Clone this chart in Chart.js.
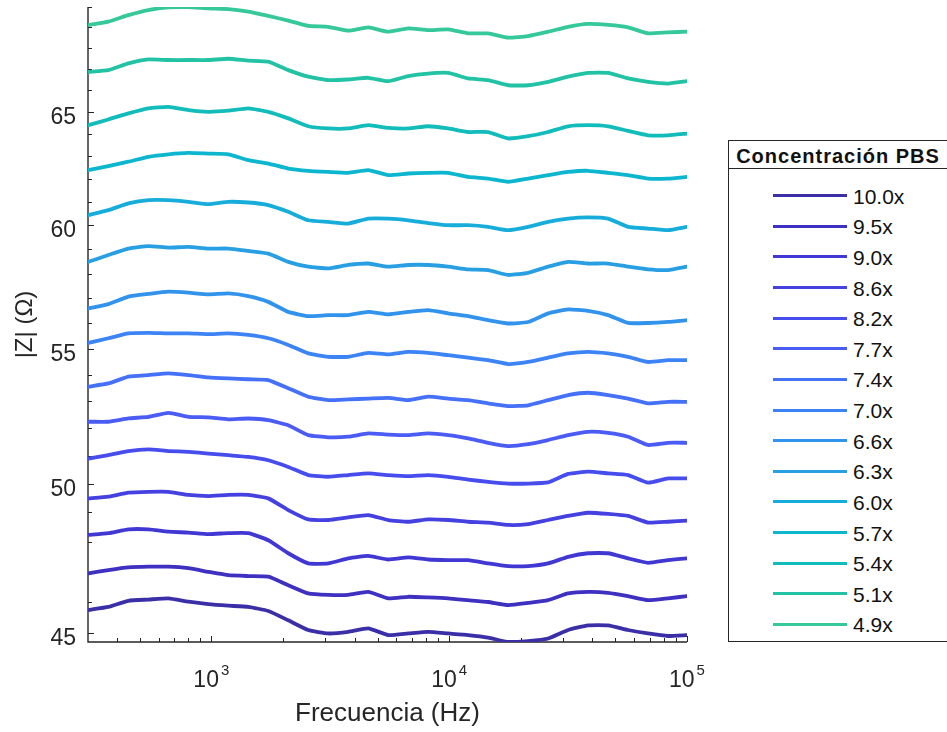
<!DOCTYPE html>
<html>
<head>
<meta charset="utf-8">
<title>|Z| vs frecuencia — concentración PBS</title>
<script src="https://cdn.jsdelivr.net/npm/chart.js@4.4.1/dist/chart.umd.min.js"></script>
<style>
  html, body { margin: 0; padding: 0; background: #fff; overflow: hidden; }
  #wrap { position: relative; width: 947px; height: 732px; }
  #legend {
    position: absolute; left: 728px; top: 140px; width: 240px; height: 502px;
    box-sizing: border-box; border: 1px solid #262626; background: #fff;
    font-family: "Liberation Sans", Arial, Helvetica, sans-serif; color: #262626;
  }
  #legend .title {
    position: absolute; left: 0; top: 0; width: 218px; height: 27px;
    border-bottom: 1px solid #262626; width: 100%;
  }
  #legend .title span {
    position: absolute; left: 0; width: 218px; top: 5px; text-align: center;
    font-weight: bold; font-size: 20px; line-height: 20px; letter-spacing: 1px; color: #111;
  }
  #legend .swatch { position: absolute; left: 44px; width: 74px; height: 3px; }
  #legend .lbl { position: absolute; left: 124px; font-size: 21px; line-height: 20px; color: #111; }
</style>
</head>
<body>
<div id="wrap">
  <canvas id="chart" width="947" height="732"></canvas>
  <div id="legend"><div class="title"><span>Concentración PBS</span></div></div>
</div>
<script>
/* ── Data ────────────────────────────────────────────────────── */
var FREQ = [304, 369, 448, 544, 660, 801, 972, 1179, 1430, 1736, 2106, 2556, 3101, 3764, 4568,
            5543, 6726, 8162, 9904, 12018, 14584, 17701, 21478, 26062, 31623, 38373, 46571,
            56508, 68565, 83218, 100000];

var CONC = ['10.0x', '9.5x', '9.0x', '8.6x', '8.2x', '7.7x', '7.4x', '7.0x',
            '6.6x', '6.3x', '6.0x', '5.7x', '5.4x', '5.1x', '4.9x'];

var Z_10_0 = [45.74, 45.84, 46.04, 46.08, 46.12, 46.01, 45.93, 45.88, 45.84, 45.71, 45.41, 45.10, 44.99, 45.04, 45.15, 44.94, 44.99, 45.04, 44.99, 44.94, 44.86, 44.72, 44.75, 44.83, 45.10, 45.25, 45.25, 45.10, 44.99, 44.91, 44.94];
var Z_9_5  = [46.94, 47.05, 47.14, 47.16, 47.16, 47.11, 46.99, 46.88, 46.85, 46.83, 46.55, 46.28, 46.23, 46.23, 46.33, 46.12, 46.17, 46.15, 46.12, 46.06, 46.00, 45.90, 45.97, 46.06, 46.28, 46.33, 46.30, 46.19, 46.06, 46.12, 46.19];
var Z_9_0  = [48.23, 48.29, 48.42, 48.42, 48.34, 48.31, 48.26, 48.29, 48.29, 48.05, 47.61, 47.27, 47.27, 47.44, 47.52, 47.40, 47.47, 47.40, 47.38, 47.38, 47.27, 47.18, 47.18, 47.27, 47.49, 47.61, 47.61, 47.44, 47.29, 47.38, 47.44];
var Z_8_6  = [49.49, 49.55, 49.69, 49.72, 49.72, 49.61, 49.57, 49.61, 49.61, 49.49, 49.08, 48.76, 48.74, 48.83, 48.91, 48.74, 48.68, 48.76, 48.74, 48.68, 48.65, 48.57, 48.60, 48.74, 48.88, 48.99, 48.95, 48.88, 48.65, 48.68, 48.72];
var Z_8_2  = [50.90, 51.02, 51.17, 51.23, 51.17, 51.14, 51.08, 51.02, 50.96, 50.84, 50.60, 50.31, 50.25, 50.31, 50.37, 50.31, 50.27, 50.31, 50.25, 50.15, 50.07, 50.01, 50.01, 50.05, 50.35, 50.43, 50.37, 50.31, 50.04, 50.19, 50.19];
var Z_7_7  = [52.24, 52.24, 52.36, 52.42, 52.57, 52.42, 52.40, 52.33, 52.36, 52.30, 52.11, 51.75, 51.67, 51.69, 51.81, 51.77, 51.75, 51.81, 51.75, 51.63, 51.47, 51.35, 51.42, 51.57, 51.75, 51.87, 51.83, 51.69, 51.39, 51.47, 51.47];
var Z_7_4  = [53.55, 53.67, 53.93, 53.99, 54.05, 53.99, 53.90, 53.86, 53.83, 53.80, 53.49, 53.17, 53.04, 53.07, 53.10, 53.13, 53.04, 53.17, 53.10, 53.04, 52.92, 52.82, 52.85, 53.04, 53.23, 53.32, 53.23, 53.10, 52.92, 52.98, 52.98];
var Z_7_0  = [55.23, 55.41, 55.60, 55.62, 55.60, 55.60, 55.57, 55.60, 55.54, 55.41, 55.15, 54.82, 54.69, 54.69, 54.84, 54.78, 54.88, 54.84, 54.75, 54.66, 54.56, 54.41, 54.49, 54.66, 54.82, 54.88, 54.82, 54.69, 54.49, 54.56, 54.56];
var Z_6_6  = [56.59, 56.76, 57.06, 57.17, 57.26, 57.22, 57.15, 57.19, 57.08, 56.85, 56.45, 56.28, 56.32, 56.32, 56.45, 56.35, 56.45, 56.52, 56.39, 56.28, 56.12, 55.99, 56.05, 56.39, 56.55, 56.49, 56.32, 56.01, 56.01, 56.05, 56.12];
var Z_6_3  = [58.48, 58.76, 59.03, 59.13, 59.07, 59.10, 59.03, 59.03, 58.93, 58.82, 58.48, 58.28, 58.21, 58.35, 58.41, 58.28, 58.35, 58.35, 58.28, 58.17, 58.14, 57.94, 58.03, 58.28, 58.48, 58.41, 58.41, 58.28, 58.17, 58.14, 58.28];
var Z_6_0  = [60.44, 60.65, 60.94, 61.08, 61.08, 61.01, 60.91, 61.01, 60.98, 60.87, 60.58, 60.22, 60.15, 60.08, 60.29, 60.29, 60.22, 60.10, 60.01, 60.01, 59.94, 59.80, 59.94, 60.15, 60.29, 60.34, 60.29, 59.94, 59.87, 59.80, 59.94];
var Z_5_7  = [62.39, 62.57, 62.76, 62.98, 63.09, 63.15, 63.12, 63.09, 62.83, 62.68, 62.46, 62.36, 62.31, 62.27, 62.39, 62.17, 62.24, 62.27, 62.27, 62.09, 62.02, 61.88, 62.02, 62.17, 62.31, 62.36, 62.27, 62.17, 62.02, 62.02, 62.09];
var Z_5_4  = [64.40, 64.66, 64.94, 65.17, 65.24, 65.09, 65.01, 65.06, 65.17, 65.01, 64.71, 64.35, 64.25, 64.25, 64.40, 64.28, 64.25, 64.35, 64.25, 64.09, 64.09, 63.80, 63.90, 64.09, 64.35, 64.40, 64.35, 64.14, 63.94, 63.94, 64.02];
var Z_5_1  = [66.87, 66.95, 67.27, 67.46, 67.43, 67.43, 67.43, 67.49, 67.40, 67.35, 66.95, 66.64, 66.48, 66.51, 66.59, 66.43, 66.67, 66.79, 66.82, 66.56, 66.48, 66.24, 66.24, 66.40, 66.64, 66.82, 66.82, 66.56, 66.40, 66.32, 66.43];
var Z_4_9  = [69.12, 69.28, 69.60, 69.85, 69.98, 69.99, 69.93, 69.90, 69.77, 69.56, 69.33, 69.07, 69.03, 68.84, 69.00, 68.79, 68.95, 68.87, 68.90, 68.71, 68.71, 68.50, 68.58, 68.79, 69.03, 69.17, 69.12, 69.00, 68.71, 68.76, 68.79];

var SERIES = [Z_10_0, Z_9_5, Z_9_0, Z_8_6, Z_8_2, Z_7_7, Z_7_4, Z_7_0,
              Z_6_6, Z_6_3, Z_6_0, Z_5_7, Z_5_4, Z_5_1, Z_4_9];

var COLORS = ['#3b2fa8', '#3e30c0', '#4138d4', '#4441e0', '#474dec', '#4a5cf4', '#4570f8', '#3c84f6',
              '#3193ec', '#289fe3', '#17addb', '#0cb6cf', '#12bcbb', '#22c2a5', '#35c89a'];

/* axis ticks */
var Y_TICKS  = [45, 46, 47, 48, 49, 50, 51, 52, 53, 54, 55, 56, 57, 58, 59, 60,
                61, 62, 63, 64, 65, 66, 67, 68, 69, 70];
var Y_LABELS = [45, 50, 55, 60, 65];
var X_MAJOR  = [1000, 10000, 100000];
var X_MINOR  = [400, 500, 600, 700, 800, 900, 2000, 3000, 4000, 5000, 6000, 7000, 8000, 9000,
                20000, 30000, 40000, 50000, 60000, 70000, 80000, 90000];

var FONT = '"Liberation Sans", Arial, Helvetica, sans-serif';
var TEXT_COLOR = '#262626';
var AXIS_COLOR = '#262626';

/* ── MATLAB-style axes: inward ticks, superscript decade labels ── */
var matlabAxes = {
  id: 'matlabAxes',
  beforeDatasetsDraw: function(chart) {
    var ctx = chart.ctx, a = chart.chartArea;
    var xs = chart.scales.x, ys = chart.scales.y;
    ctx.save();
    ctx.strokeStyle = AXIS_COLOR;
    ctx.lineWidth = 1.4;
    ctx.beginPath();
    ctx.moveTo(a.left, a.top);
    ctx.lineTo(a.left, a.bottom);
    ctx.lineTo(a.right, a.bottom);
    ctx.stroke();

    ctx.lineWidth = 1;
    ctx.beginPath();
    Y_TICKS.forEach(function(v) {
      var py = Math.round(ys.getPixelForValue(v)) + 0.5;
      var len = Y_LABELS.indexOf(v) >= 0 ? 6 : 4;
      ctx.moveTo(a.left, py);
      ctx.lineTo(a.left + len, py);
    });
    X_MINOR.concat(X_MAJOR).forEach(function(v) {
      var px = Math.round(xs.getPixelForValue(v)) + 0.5;
      var len = X_MAJOR.indexOf(v) >= 0 ? 6 : 4;
      ctx.moveTo(px, a.bottom);
      ctx.lineTo(px, a.bottom - len);
    });
    ctx.stroke();

    ctx.fillStyle = TEXT_COLOR;
    ctx.textBaseline = 'alphabetic';
    ctx.textAlign = 'right';
    ctx.font = '23px ' + FONT;
    Y_LABELS.forEach(function(v) {
      ctx.fillText(String(v), a.left - 12, ys.getPixelForValue(v) + 12);
    });

    ctx.textAlign = 'left';
    X_MAJOR.forEach(function(v) {
      var exp = String(Math.round(Math.log10(v)));
      ctx.font = '23px ' + FONT;
      var wb = ctx.measureText('10').width;
      ctx.font = '15px ' + FONT;
      var we = ctx.measureText(exp).width;
      var x0 = xs.getPixelForValue(v) - (wb + 2 + we) / 2;
      ctx.font = '23px ' + FONT;
      ctx.fillText('10', x0, a.bottom + 45);
      ctx.font = '15px ' + FONT;
      ctx.fillText(exp, x0 + wb + 2, a.bottom + 33);
    });
    ctx.restore();
  }
};

/* ── Chart ─────────────────────────────────────────────────────── */
var datasets = SERIES.map(function(vals, i) {
  return {
    label: CONC[i],
    data: FREQ.map(function(f, j) { return { x: f, y: vals[j] }; }),
    borderColor: COLORS[i],
    borderWidth: 3.8,
    pointRadius: 0,
    tension: 0.15,
    borderJoinStyle: 'round',
    borderCapStyle: 'round',
    fill: false
  };
});

new Chart(document.getElementById('chart'), {
  type: 'line',
  data: { datasets: datasets },
  options: {
    responsive: false,
    animation: false,
    devicePixelRatio: 1,
    layout: { padding: { top: 7, right: 260, bottom: 0, left: 0 } },
    plugins: { legend: { display: false }, tooltip: { enabled: false } },
    scales: {
      x: {
        type: 'logarithmic',
        min: 303,
        max: 100000,
        grid: { display: false },
        border: { display: false },
        ticks: { display: false },
        title: {
          display: true,
          text: 'Frecuencia (Hz)',
          color: TEXT_COLOR,
          font: { family: FONT, size: 26 },
          padding: { top: 0, bottom: 3 }
        },
        afterFit: function(s) { s.height = 90; }
      },
      y: {
        type: 'logarithmic',
        min: 44.72,
        max: 70,
        grid: { display: false },
        border: { display: false },
        ticks: { display: false },
        title: {
          display: true,
          text: '|Z| (Ω)',
          color: TEXT_COLOR,
          font: { family: FONT, size: 24 },
          padding: { top: 11, bottom: 0 }
        },
        afterFit: function(s) { s.width = 88; }
      }
    }
  },
  plugins: [matlabAxes]
});

/* ── Legend box ────────────────────────────────────────────────── */
(function buildLegend() {
  var box = document.getElementById('legend');
  CONC.forEach(function(name, i) {
    var cy = 54.7 + i * 30.62;
    var sw = document.createElement('div');
    sw.className = 'swatch';
    sw.style.top = (cy - 1.5) + 'px';
    sw.style.background = COLORS[i];
    box.appendChild(sw);
    var lb = document.createElement('div');
    lb.className = 'lbl';
    lb.style.top = (cy - 9) + 'px';
    lb.textContent = name;
    box.appendChild(lb);
  });
})();
</script>
</body>
</html>
